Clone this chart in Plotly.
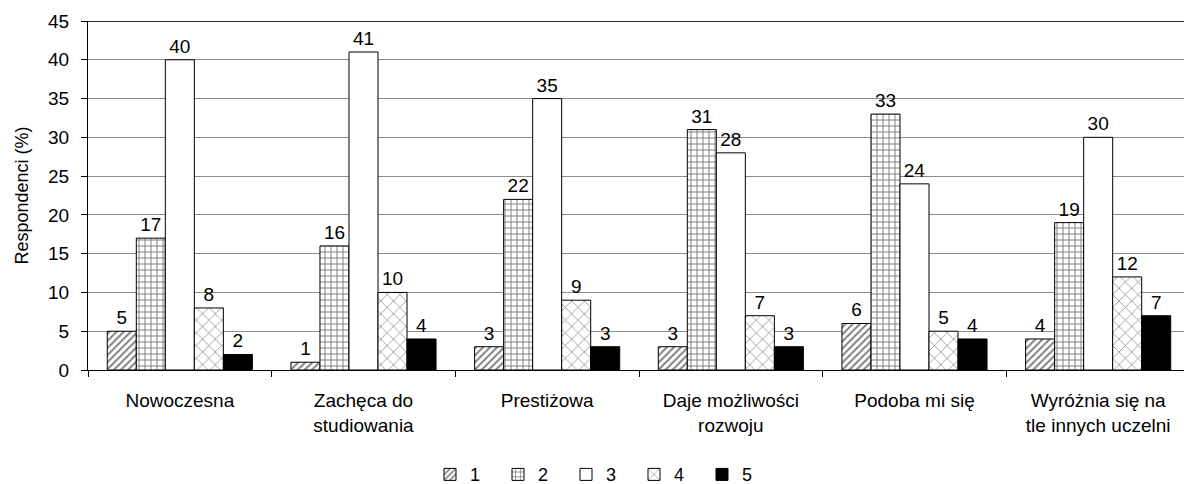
import plotly.graph_objects as go

categories = ["Nowoczesna", "Zachęca do<br>studiowania", "Prestiżowa",
              "Daje możliwości<br>rozwoju", "Podoba mi się",
              "Wyróżnia się na<br>tle innych uczelni"]
series_names = ["1", "2", "3", "4", "5"]
s1 = [5, 1, 3, 3, 6, 4]
s2 = [17, 16, 22, 31, 33, 19]
s3 = [40, 41, 35, 28, 24, 30]
s4 = [8, 10, 9, 7, 5, 12]
s5 = [2, 4, 3, 3, 4, 7]
y_ticks = [0, 5, 10, 15, 20, 25, 30, 35, 40, 45]

values = [s1, s2, s3, s4, s5]
styles = [
    dict(color="white", pattern=dict(shape="/", fgcolor="black", bgcolor="white", size=5, solidity=0.4)),
    dict(color="white", pattern=dict(shape="+", fgcolor="black", bgcolor="white", size=6, solidity=0.3)),
    dict(color="white"),
    dict(color="white", pattern=dict(shape="x", fgcolor="black", bgcolor="white", size=9, solidity=0.15)),
    dict(color="black"),
]

FONT = "Liberation Sans, Arial"
fig = go.Figure()
for name, vals, st in zip(series_names, values, styles):
    fig.add_trace(go.Bar(
        name=name, x=categories, y=vals,
        marker=dict(line=dict(color="black", width=1), **st),
        text=[str(v) for v in vals], textposition="outside",
        textfont=dict(size=19, color="black", family=FONT),
        cliponaxis=False, constraintext="none",
    ))

fig.update_layout(
    width=1184, height=476,
    barmode="group", bargap=0.21, bargroupgap=0,
    paper_bgcolor="white", plot_bgcolor="white",
    font=dict(family=FONT, size=19, color="black"),
    margin=dict(l=80, r=2, t=13, b=114, autoexpand=False),
    showlegend=True,
    legend=dict(orientation="h", x=0.5, xref="container", xanchor="center",
                y=-0.30, yref="paper", yanchor="middle",
                font=dict(size=18), itemwidth=30, traceorder="normal",
                entrywidth=23, entrywidthmode="pixels", tracegroupgap=0),
    xaxis=dict(showline=True, linecolor="black", linewidth=1, mirror=False,
               ticks="outside", tickson="boundaries", ticklen=6, tickcolor="black",
               tickfont=dict(size=19), ticklabelstandoff=13),
    yaxis=dict(range=[0, 45], tickvals=y_ticks, showgrid=True, gridcolor="#8c8c8c",
               gridwidth=1, showline=True, linecolor="black", linewidth=1,
               ticks="outside", ticklen=6, tickcolor="black",
               tickfont=dict(size=19), ticklabelstandoff=8,
               title=dict(text="Respondenci (%)", font=dict(size=18), standoff=14)),
)
fig.add_shape(type="line", xref="paper", yref="y", x0=0, x1=1, y0=45, y1=45,
              line=dict(color="#333333", width=2))
fig.write_html("out.html")
